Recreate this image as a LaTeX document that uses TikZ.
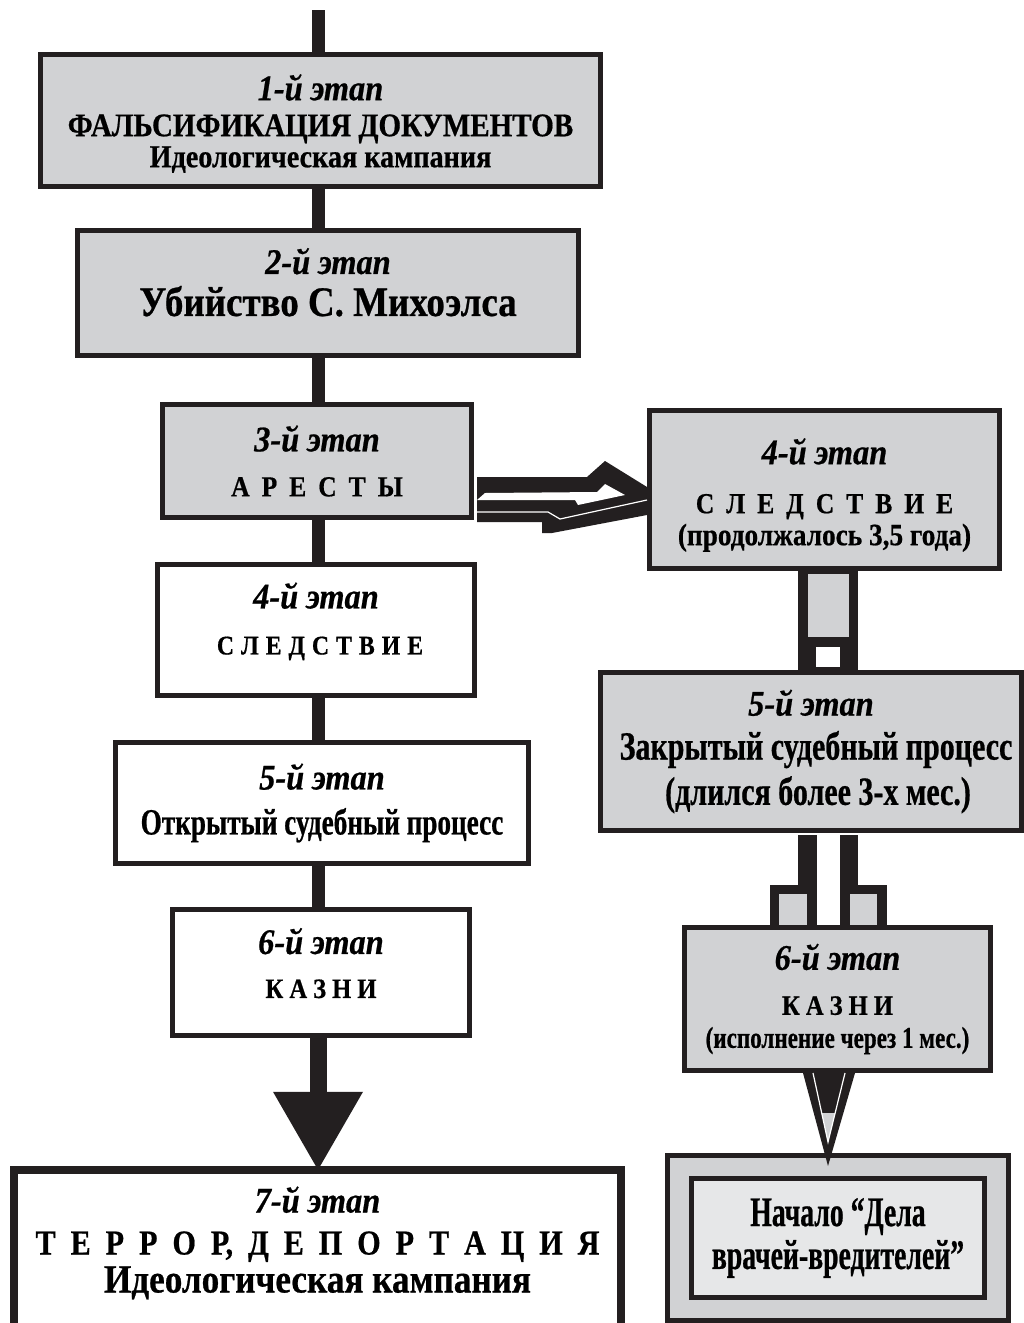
\documentclass[tikz,border=0pt]{standalone}
\usepackage{fontspec}
\setmainfont{Liberation Serif}[
  BoldFeatures={FakeBold=0.6},
  BoldItalicFeatures={FakeBold=0.6}]
\usetikzlibrary{arrows.meta}

\definecolor{ink}{HTML}{231F20}
\definecolor{panel}{HTML}{D1D2D4}
\definecolor{pale}{HTML}{E6E7E8}

\newcommand\stagefont{\itshape\fontsize{36}{36}\selectfont\addfontfeature{FakeStretch=0.9}}
\newcommand\sized[2]{\fontsize{#1}{#1}\selectfont\addfontfeature{FakeStretch=#2}}
\newcommand\tracked[3]{\fontsize{#1}{#1}\selectfont\addfontfeature{FakeStretch=#2}\spaceskip=#3pt\relax}

\begin{document}
\begin{tikzpicture}[
    x=1pt, y=-1pt,
    stage/.style={
      draw = ink,
      line width = 5pt,
      fill = panel,
      align = center,
      inner sep = 0pt,
      font = \bfseries\fontsize{30}{34}\selectfont,
    },
    openstage/.style={stage, fill = white},
    link/.style={draw = ink, line width = 13pt},
  ]
  \clip (0,0) rectangle (1024,1323);
  \fill[white] (0,0) rectangle (1024,1323);

  % left column
  \coordinate (top) at (318,10);
  \node[stage, minimum width=560, minimum height=132] (s1) at (320.5,120.5)
    {{\stagefont\rule{0pt}{32pt}1-й этап}\\[2pt]{\sized{33}{0.88}ФАЛЬСИФИКАЦИЯ ДОКУМЕНТОВ}\\[-3pt]{\sized{32}{0.88}Идеологическая кампания}};
  \node[stage, minimum width=501, minimum height=125, text depth=22pt] (s2) at (328,293)
    {{\stagefont 2-й этап}\\[8pt]{\sized{42}{0.88}Убийство С. Михоэлса}};
  \node[stage, minimum width=309, minimum height=113] (s3) at (317,461)
    {{\stagefont 3-й этап}\\[11pt]{\tracked{29}{0.88}{12}А Р Е С Т Ы}};
  \node[openstage, minimum width=317, minimum height=131, text depth=23pt] (s4) at (316,630)
    {{\stagefont 4-й этап}\\[12pt]{\tracked{27}{0.88}{7}\hspace*{8pt}С Л Е Д С Т В И Е}};
  \node[openstage, minimum width=413, minimum height=121] (s5) at (322,803)
    {{\stagefont 5-й этап}\\[11pt]{\sized{37}{0.735}Открытый судебный процесс}};
  \node[openstage, minimum width=297, minimum height=126, text depth=19pt] (s6) at (321,972.5)
    {{\stagefont 6-й этап}\\[10pt]{\tracked{28}{0.88}{6}К А З Н И}};
  \node[align=center, inner sep=0pt, font=\bfseries\fontsize{30}{34}\selectfont,
    minimum width=607, minimum height=146] (s7) at (317.5,1243)
    {{\stagefont 7-й этап}\\[8pt]{\tracked{35}{0.86}{15}Т Е Р Р О Р, Д Е П О Р Т А Ц И Я\hspace*{16pt}}\\[4pt]{\sized{40}{0.88}Идеологическая кампания}};
  \draw[ink, line width=8pt] (s7.south west) ++(0,60) -- (s7.north west) -- (s7.north east) -- ++(0,200);

  \draw[link] (top) -- (top |- s1.north);
  \draw[link] (s1.south -| top) -- (s2.north -| top);
  \draw[link] (s2.south -| top) -- (s3.north -| top);
  \draw[link] (s3.south -| top) -- (s4.north -| top);
  \draw[link] (s4.south -| top) -- (s5.north -| top);
  \draw[link] (s5.south -| top) -- (s6.north -| top);
  \draw[ink, line width=17pt, -{Triangle[width=90pt, length=78pt, line width=0pt]}]
    (s6.south -| top) -- (s7.north -| top);

  % right column
  \node[stage, minimum width=350, minimum height=158] (r4) at (824.5,489.5)
    {{\stagefont\rule{0pt}{37pt}4-й этап}\\[15pt]{\tracked{29}{0.88}{12}С Л Е Д С Т В И Е\hspace*{20pt}}\\[-2pt]{\sized{31}{0.88}(продолжалось 3,5 года)}};
  \node[stage, minimum width=421, minimum height=158] (r5) at (811,751.5)
    {{\stagefont 5-й этап}\\[10pt]{\sized{40}{0.75}\hspace*{10pt}Закрытый судебный процесс}\\[7pt]{\sized{40}{0.75}\hspace*{14pt}(длился более 3-х мес.)}};
  \node[stage, minimum width=306, minimum height=143] (r6) at (837.5,999)
    {{\stagefont 6-й этап}\\[11pt]{\tracked{28}{0.88}{6}К А З Н И\hspace*{14pt}}\\[-1pt]{\sized{30}{0.77}(исполнение через 1 мес.)}};
  \node[stage, minimum width=341, minimum height=165] (r7) at (838,1238) {};
  \node[stage, fill=pale, minimum width=293, minimum height=119] (r7in) at (r7.center)
    {{\sized{42}{0.66}Начало “Дела}\\[4pt]{\sized{42}{0.66}врачей-вредителей”}};

  % hollow arrow 3 -> 4
  \fill[ink] (477,477) -- (587,477) -- (605,461) -- (647,487) -- (647,515)
    -- (552,533) -- (542,533) -- (542,522) -- (477,522) -- cycle;
  \fill[white] (477,500) -- (485,493) -- (597,492) -- (605,484) -- (625,495)
    -- (578,505) -- (575,500) -- cycle;
  \draw[white, line width=1.2pt] (477,512) -- (548,512) -- (560,519) -- (647,500);

  % pipe 4 -> 5
  \fill[ink] (798,571) rectangle (858,670);
  \fill[panel] (808,574) rectangle (849,637);
  \fill[white] (816,647) rectangle (840,667);

  % twin pipes 5 -> 6
  \fill[ink] (798,835) rectangle (817,925);
  \fill[ink] (770,885) rectangle (817,925);
  \fill[panel] (779,894) rectangle (807,925);
  \fill[ink] (840,835) rectangle (858,925);
  \fill[ink] (840,885) rectangle (887,925);
  \fill[panel] (850,894) rectangle (877,925);

  % wedge 6 -> doctors
  \fill[ink] (803,1073) -- (855,1073) -- (828,1166) -- cycle;
  \begin{scope}
    \clip (813,1073) -- (845,1073) -- (828,1142) -- cycle;
    \fill[panel] (800,1073) rectangle (860,1142);
    \fill[ink] (800,1073) rectangle (860,1113);
  \end{scope}
  \draw[white, line width=1.2pt] (813,1073) -- (828,1142) -- (845,1073);
\end{tikzpicture}
\end{document}
